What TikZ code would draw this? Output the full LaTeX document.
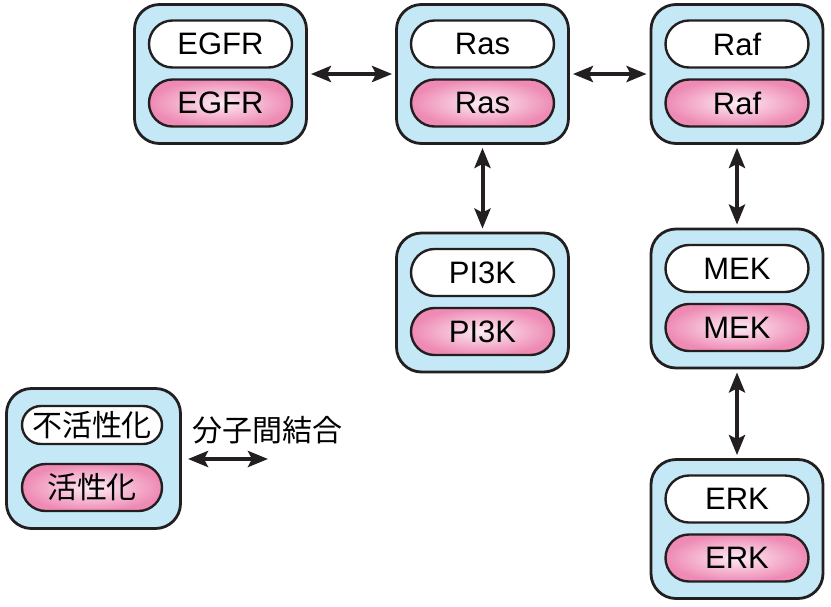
\documentclass[tikz,border=0pt]{standalone}
\usepackage{fontspec}
\setmainfont{Liberation Sans}
\newfontfamily\cjk{Noto Sans CJK JP}
\usetikzlibrary{arrows.meta,shapes.misc,positioning}
\definecolor{BoxClr}{RGB}{196,232,246}
\definecolor{ActClr}{RGB}{238,138,180}
\definecolor{ActCore}{RGB}{253,236,244}
\definecolor{LineClr}{RGB}{35,31,32}

\begin{document}
\begin{tikzpicture}[x=1pt,y=-1pt,
  box/.style={draw=LineClr,line width=2.8pt,fill=BoxClr,rounded corners=25pt,minimum width=172pt,minimum height=139pt},
  pill/.style={draw=LineClr,line width=2.4pt,rounded rectangle,minimum width=143pt,minimum height=47pt,inner sep=0pt,font=\fontsize{31}{34}\selectfont},
  idle/.style={pill,fill=white},
  active/.style={pill,inner color=ActCore,outer color=ActClr},
  bind/.style={draw=LineClr,line width=4pt,{Stealth[length=20pt,width=16pt,inset=4pt]}-{Stealth[length=20pt,width=16pt,inset=4pt]},shorten <=3pt,shorten >=3pt}]
\useasboundingbox (0,0) rectangle (831,606);

\foreach \nm/\x/\y in {EGFR/220.5/74,Ras/482.5/74,Raf/737/74,PI3K/482.5/302.5,MEK/737/298.5,ERK/737/529}{
  \node[box] (\nm) at (\x,\y) {};
  \node[idle] (\nm-i) at (\x,\y-30) {\nm};
  \node[active] (\nm-a) at (\x,\y+29) {\nm};
}

\draw[bind] (EGFR) -- (Ras);
\draw[bind] (Ras) -- (Raf);
\draw[bind] (Ras) -- (PI3K);
\draw[bind] (Raf) -- (MEK);
\draw[bind] (MEK) -- (ERK);

% legend
\node[box,minimum width=174pt,minimum height=140pt] (key) at (93.5,458.5) {};
\node[idle,minimum width=140pt,minimum height=38pt,font=\cjk\fontsize{30}{34}\selectfont] (key-i) at (92,425) {不活性化};
\node[active,minimum width=140pt,font=\cjk\fontsize{30}{34}\selectfont] (key-a) at (92,487.5) {活性化};
\node[font=\cjk\fontsize{30}{34}\selectfont] (bindtxt) at (267,430) {分子間結合};
\coordinate (bindL) at (188,459);
\coordinate (bindR) at (268,459);
\draw[bind,shorten <=0pt,shorten >=0pt] (bindL) -- (bindR);

\end{tikzpicture}
\end{document}
